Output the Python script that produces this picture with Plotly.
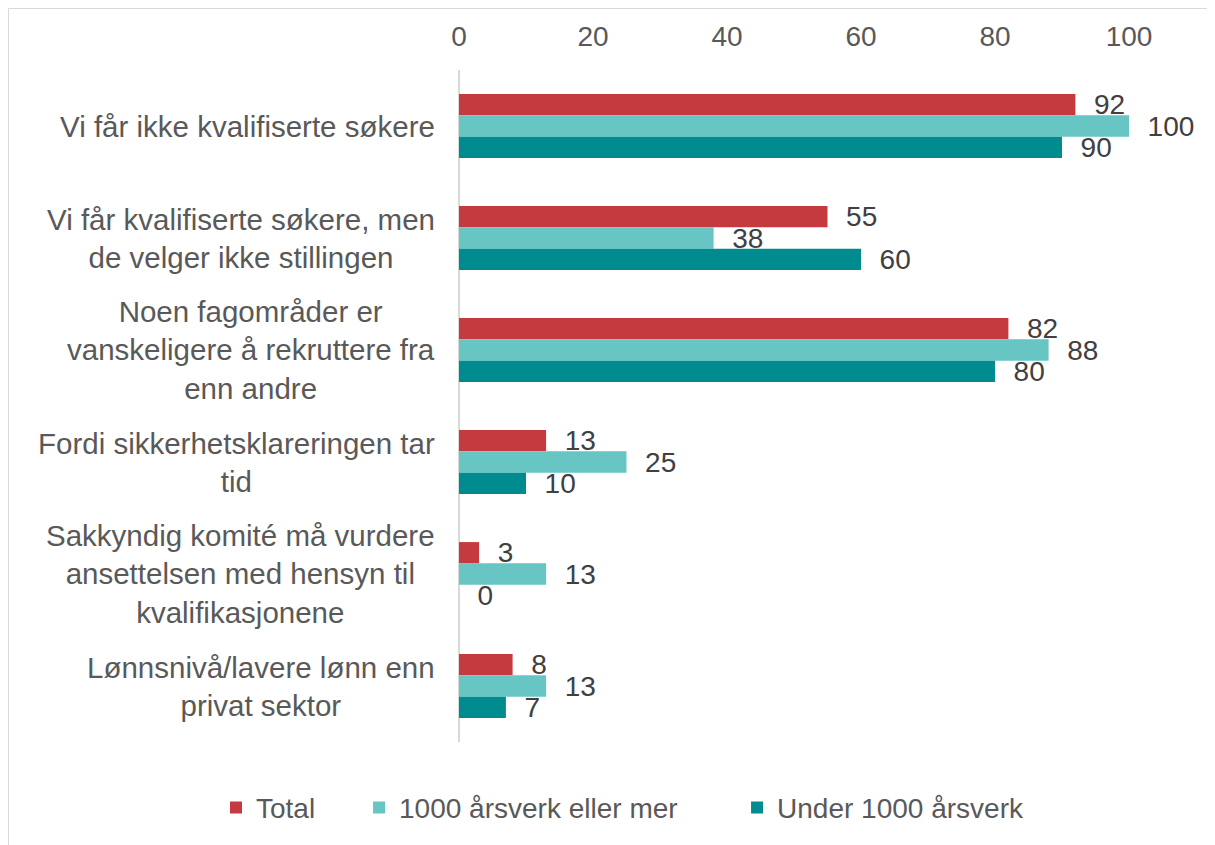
import plotly.graph_objects as go

categories = [
    "Vi får ikke kvalifiserte søkere",
    "Vi får kvalifiserte søkere, men<br>de velger ikke stillingen",
    "Noen fagområder er<br>vanskeligere å rekruttere fra<br>enn andre",
    "Fordi sikkerhetsklareringen tar<br>tid",
    "Sakkyndig komité må vurdere<br>ansettelsen med hensyn til<br>kvalifikasjonene",
    "Lønnsnivå/lavere lønn enn<br>privat sektor",
]
series_names = ["Total", "1000 årsverk eller mer", "Under 1000 årsverk"]
total = [92, 55, 82, 13, 3, 8]
large = [100, 38, 88, 25, 13, 13]
small = [90, 60, 80, 10, 0, 7]
colors = ["#C43A3E", "#67C5C4", "#008B8F"]
x_ticks = [0, 20, 40, 60, 80, 100]

FONT = "Liberation Sans, Arial, sans-serif"
L, T, W, H = 451, 62, 670, 672
fig = go.Figure()
legend_pad = ["\u00a0" * 5, "\u00a0" * 7, ""]
for name, vals, col, pad in zip(series_names, [total, large, small], colors, legend_pad):
    fig.add_trace(go.Bar(
        y=categories, x=vals, orientation="h", name=name + pad,
        marker=dict(color=col, line=dict(width=0)),
        texttemplate="\u00a0\u00a0%{x}", textposition="outside",
        constraintext="none", cliponaxis=False,
        textfont=dict(size=28, color="#404040", family=FONT),
        hoverinfo="skip",
    ))

annotations = [
    dict(text=c, xref="paper", yref="y", x=0, y=c, xanchor="right", yanchor="middle",
         xshift=-22, align="center", showarrow=False,
         font=dict(size=29.5, color="#595959", family=FONT))
    for c in categories
]

fig.update_layout(
    width=1215, height=845,
    margin=dict(l=L, r=1215 - L - W, t=T, b=845 - T - H),
    paper_bgcolor="white", plot_bgcolor="white",
    barmode="group", bargap=0.43, bargroupgap=0,
    font=dict(family=FONT, size=28, color="#595959"),
    showlegend=True,
    legend=dict(orientation="h", x=(208 - L) / W, xanchor="left",
                y=-0.098, yanchor="middle",
                font=dict(size=28, color="#595959", family=FONT),
                traceorder="normal", bgcolor="rgba(0,0,0,0)"),
    xaxis=dict(range=[0, 100], side="top", tickvals=x_ticks, showgrid=False,
               zeroline=True, zerolinecolor="#D9D9D9", zerolinewidth=2,
               showline=False, ticks="outside", ticklen=12, tickcolor="rgba(0,0,0,0)",
               tickfont=dict(size=28, color="#595959", family=FONT), fixedrange=True),
    yaxis=dict(autorange="reversed", showgrid=False, zeroline=False, showline=False,
               showticklabels=False),
    annotations=annotations,
    shapes=[dict(type="rect", xref="paper", yref="paper",
                 x0=(0.5 - L) / W, x1=2.0, y0=-1.0, y1=1 + (T - 0.5) / H,
                 line=dict(color="#D9D9D9", width=1), fillcolor="rgba(0,0,0,0)", layer="below")],
)

fig.write_html("out.html")
